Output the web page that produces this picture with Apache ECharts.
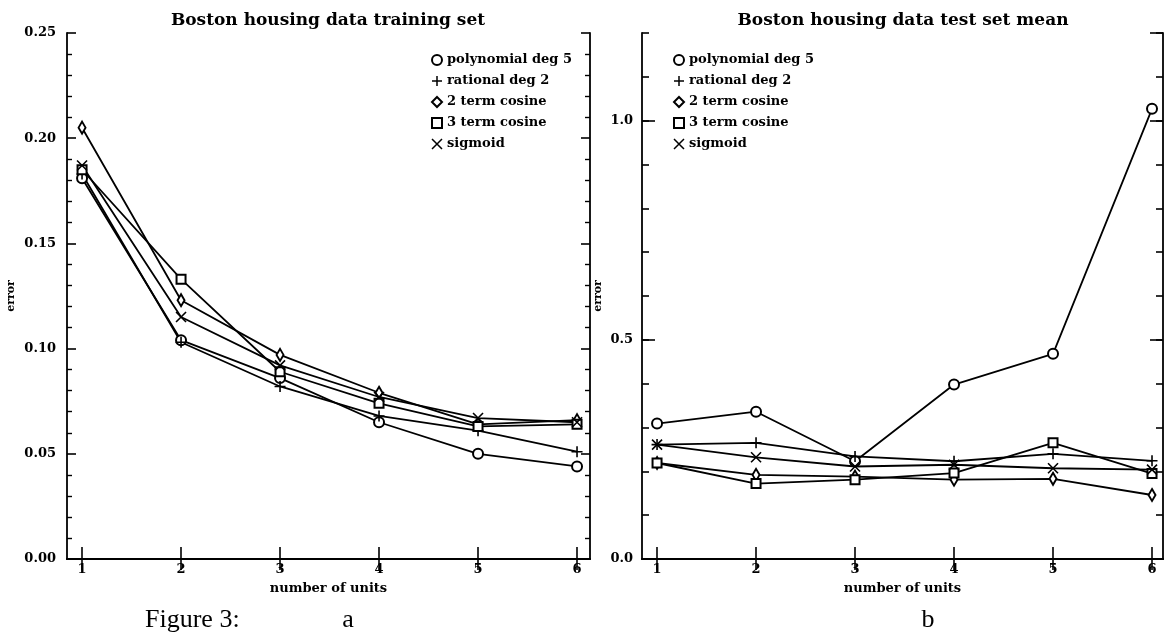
<!DOCTYPE html>
<html><head><meta charset="utf-8">
<script src="https://cdn.jsdelivr.net/npm/echarts@6/dist/echarts.min.js"></script>
<style>html,body{margin:0;padding:0;background:#fff}#c{width:1164px;height:634px}</style>
</head><body><div id="c"></div>
<script>
// ---- data ----
const units = [1, 2, 3, 4, 5, 6];
const seriesNames = ['polynomial deg 5', 'rational deg 2', '2 term cosine', '3 term cosine', 'sigmoid'];
const trainPoly     = [0.181, 0.104, 0.086, 0.065, 0.050, 0.044];
const trainRational = [0.183, 0.103, 0.082, 0.068, 0.061, 0.051];
const trainCos2     = [0.205, 0.123, 0.097, 0.079, 0.064, 0.066];
const trainCos3     = [0.185, 0.133, 0.089, 0.074, 0.063, 0.064];
const trainSigmoid  = [0.187, 0.115, 0.092, 0.077, 0.067, 0.065];
const testPoly      = [0.309, 0.336, 0.223, 0.398, 0.468, 1.027];
const testRational  = [0.261, 0.265, 0.234, 0.223, 0.240, 0.224];
const testCos2      = [0.219, 0.192, 0.188, 0.181, 0.183, 0.146];
const testCos3      = [0.219, 0.172, 0.181, 0.196, 0.265, 0.195];
const testSigmoid   = [0.261, 0.232, 0.211, 0.215, 0.207, 0.204];
const unitTicks = [1, 2, 3, 4, 5, 6];
const titles = ['Boston housing data training set', 'Boston housing data test set mean'];

// ---- styling ----
const BLACK = '#000';
const symbols = [
  {symbol: 'emptyCircle', size: 10},
  {symbol: 'path://M5,0L5,10M0,5L10,5', size: 11},
  {symbol: 'emptyDiamond', size: [7, 12]},
  {symbol: 'emptyRect', size: 9},
  {symbol: 'path://M0,0L10,10M10,0L0,10', size: 10}
];
const LBL = {color: BLACK, fontFamily: 'DejaVu Serif', fontWeight: 'bold', fontSize: 13};

const chart = echarts.init(document.getElementById('c'), null, {renderer: 'canvas'});

function xAxes(gridIndex, max) {
  return [
    {
      type: 'value', gridIndex, position: 'bottom', min: 0.848, max,
      axisLine: {show: true, lineStyle: {color: BLACK, width: 1.8}},
      axisTick: {show: true, inside: true, length: 12, customValues: unitTicks, lineStyle: {color: BLACK, width: 1.6}},
      axisLabel: Object.assign({show: true, customValues: unitTicks, margin: 4, formatter: v => String(v)}, LBL),
      splitLine: {show: false},
      name: 'number of units', nameLocation: 'middle', nameGap: 23,
      nameTextStyle: Object.assign({}, LBL, {fontSize: 13})
    },
    {
      type: 'value', gridIndex, position: 'top', min: 0.848, max,
      axisLine: {show: true, lineStyle: {color: BLACK, width: 1.8}},
      axisTick: {show: true, inside: true, length: 11, customValues: unitTicks, lineStyle: {color: BLACK, width: 1.6}},
      axisLabel: {show: false},
      splitLine: {show: false}
    }
  ];
}

function yAxis(gridIndex, position, max, interval, len, opts) {
  return Object.assign({
    type: 'value', gridIndex, position, min: 0, max, interval,
    axisLine: {show: true, lineStyle: {color: BLACK, width: 1.8}},
    axisTick: {show: true, inside: true, length: len, lineStyle: {color: BLACK, width: 1.6}},
    axisLabel: {show: false},
    splitLine: {show: false}
  }, opts || {});
}

const yAxes = [
  // grid 0 (training)
  yAxis(0, 'left', 0.25, 0.05, 9, {
    axisLabel: Object.assign({show: true, margin: 11, formatter: v => v.toFixed(2)}, LBL),
    minorTick: {show: true, splitNumber: 5, length: 5, lineStyle: {color: BLACK, width: 1.4}},
    name: 'error', nameLocation: 'middle', nameRotate: 90, nameGap: 50,
    nameTextStyle: Object.assign({}, LBL, {fontSize: 11})
  }),
  yAxis(0, 'right', 0.25, 0.05, 9, {
    minorTick: {show: true, splitNumber: 5, length: 5, lineStyle: {color: BLACK, width: 1.4}}
  }),
  // grid 1 (test)
  yAxis(1, 'left', 1.2, 0.5, 13, {
    axisLabel: Object.assign({show: true, margin: 9, showMaxLabel: false, formatter: v => v.toFixed(1)}, LBL),
    name: 'error', nameLocation: 'middle', nameRotate: 90, nameGap: 38,
    nameTextStyle: Object.assign({}, LBL, {fontSize: 11})
  }),
  yAxis(1, 'left', 1.2, 0.1, 7, {axisLine: {show: false}}),
  yAxis(1, 'right', 1.2, 0.5, 13),
  yAxis(1, 'right', 1.2, 0.1, 7, {axisLine: {show: false}})
];

function makeSeries(gridIdx, yIdx, arrays) {
  return arrays.map((arr, i) => ({
    name: seriesNames[i],
    type: 'line',
    xAxisIndex: gridIdx * 2,
    yAxisIndex: yIdx,
    data: units.map((u, k) => [u, arr[k]]),
    symbol: symbols[i].symbol,
    symbolSize: symbols[i].size,
    showAllSymbol: true,
    lineStyle: {color: BLACK, width: 1.8},
    itemStyle: {color: BLACK, borderColor: BLACK, borderWidth: 1.6},
    emphasis: {disabled: true},
    animation: false,
    z: 3
  }));
}

const legendText = Object.assign({}, LBL, {fontSize: 13, lineHeight: 14});
function legend(left) {
  return {
    orient: 'vertical', left, top: 48, itemWidth: 10, itemHeight: 10, itemGap: 7,
    selectedMode: false,
    textStyle: legendText,
    itemStyle: {color: BLACK, borderColor: BLACK, borderWidth: 1.5},
    data: seriesNames.map((n, i) => ({name: n, icon: symbols[i].symbol}))
  };
}

const option = {
  backgroundColor: '#fff',
  animation: false,
  grid: [
    {left: 67, top: 33, width: 523, height: 526},
    {left: 642, top: 33, width: 521, height: 526}
  ],
  xAxis: xAxes(0, 6.131).concat(xAxes(1, 6.111)),
  yAxis: yAxes,
  legend: [legend(426), legend(668)],
  series: makeSeries(0, 0, [trainPoly, trainRational, trainCos2, trainCos3, trainSigmoid])
    .concat(makeSeries(1, 2, [testPoly, testRational, testCos2, testCos3, testSigmoid])),
  graphic: [
    {type: 'text', x: 328, y: 21, style: {text: titles[0], textAlign: 'center', textVerticalAlign: 'middle', fill: BLACK, font: 'bold 17px "DejaVu Serif"'}},
    {type: 'text', x: 903, y: 21, style: {text: titles[1], textAlign: 'center', textVerticalAlign: 'middle', fill: BLACK, font: 'bold 17px "DejaVu Serif"'}},
    {type: 'text', x: 145, y: 620, style: {text: 'Figure 3:', textAlign: 'left', textVerticalAlign: 'middle', fill: BLACK, font: '26px "Liberation Serif"'}},
    {type: 'text', x: 348, y: 620, style: {text: 'a', textAlign: 'center', textVerticalAlign: 'middle', fill: BLACK, font: '26px "Liberation Serif"'}},
    {type: 'text', x: 928, y: 620, style: {text: 'b', textAlign: 'center', textVerticalAlign: 'middle', fill: BLACK, font: '26px "Liberation Serif"'}}
  ]
};
chart.setOption(option);
</script>
</body></html>
